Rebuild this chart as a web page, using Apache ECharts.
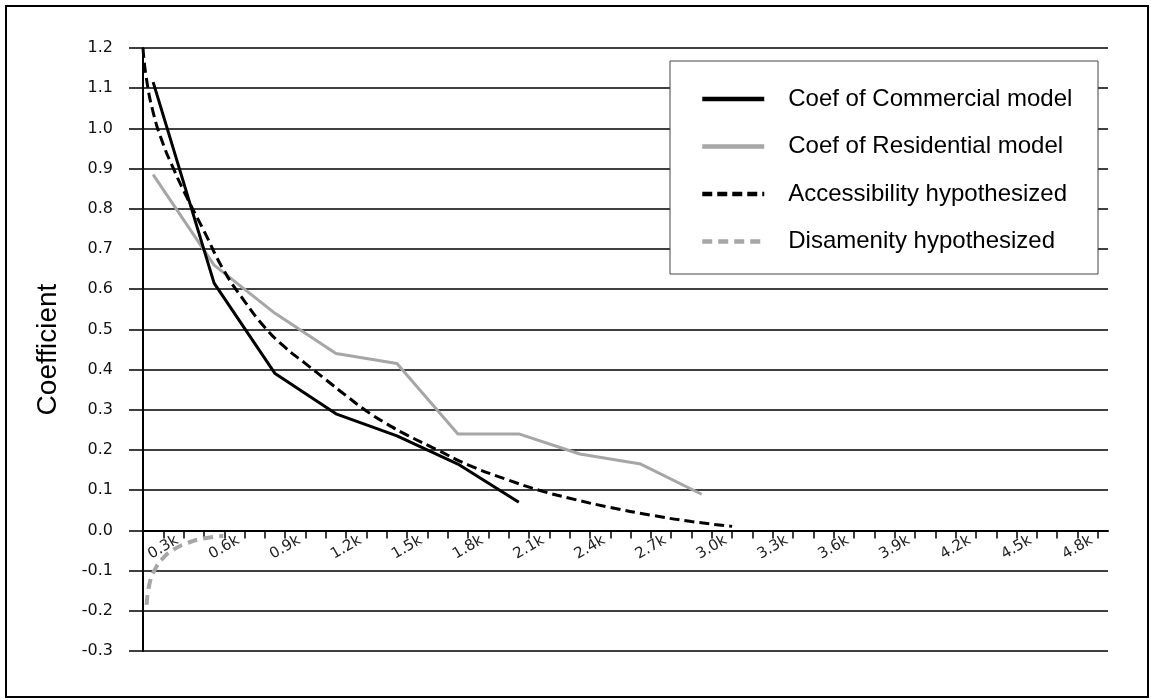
<!DOCTYPE html>
<html>
<head>
<meta charset="utf-8">
<script src="https://cdn.jsdelivr.net/npm/echarts@6/dist/echarts.min.js"></script>
<style>
html,body{margin:0;padding:0;background:#fff;}
#chart{width:1151px;height:700px;}
</style>
</head>
<body>
<div id="chart"></div>
<script>
// ---- data (x = distance in metres, y = coefficient) ----
const seriesNames = ['Coef of Commercial model','Coef of Residential model','Accessibility hypothesized','Disamenity hypothesized'];
const commercialX = [250, 550, 850, 1150, 1450, 1750, 2050];
const commercialY = [1.115, 0.615, 0.39, 0.29, 0.235, 0.165, 0.07];
const residentialX = [250, 550, 850, 1150, 1450, 1750, 2050, 2350, 2650, 2950];
const residentialY = [0.885, 0.66, 0.54, 0.44, 0.415, 0.24, 0.24, 0.19, 0.165, 0.09];
const accessX = [200, 215, 250, 300, 350, 400, 500, 600, 700, 800, 900, 1000, 1100, 1200, 1300, 1400, 1500, 1650, 1800, 2000, 2150, 2300, 2500, 2700, 2900, 3100];
const accessY = [1.2, 1.13, 1.04, 0.96, 0.90, 0.845, 0.745, 0.645, 0.57, 0.505, 0.455, 0.415, 0.375, 0.335, 0.297, 0.265, 0.237, 0.2, 0.163, 0.125, 0.1, 0.08, 0.057, 0.038, 0.022, 0.01];
const disamenityX = [218, 231, 259, 300, 349, 415, 497, 595];
const disamenityY = [-0.185, -0.135, -0.097, -0.068, -0.048, -0.032, -0.02, -0.014];
const xTickValues = [300, 600, 900, 1200, 1500, 1800, 2100, 2400, 2700, 3000, 3300, 3600, 3900, 4200, 4500, 4800];
const xTickLabels = ['0.3k','0.6k','0.9k','1.2k','1.5k','1.8k','2.1k','2.4k','2.7k','3.0k','3.3k','3.6k','3.9k','4.2k','4.5k','4.8k'];
const yAxisName = 'Coefficient';
const yMin = -0.3, yMax = 1.2;

function pairs(xs, ys) { return xs.map((x, i) => [x, ys[i]]); }
const minorTicks = [];
for (let v = 300; v <= 4900; v += 100) minorTicks.push(v);

const gridTop = 48, gridBottom = 49, H = 700;
const plotH = H - gridTop - gridBottom;
// move the x axis up so that it sits on the zero line
const zeroOffset = -(plotH * (0 - yMin) / (yMax - yMin));

const chart = echarts.init(document.getElementById('chart'), null, {renderer: 'canvas'});
const option = {
  animation: false,
  backgroundColor: '#fff',
  grid: {left: 143, right: 43, top: gridTop, bottom: gridBottom, containLabel: false},
  xAxis: {
    type: 'value', min: 200, max: 4950, offset: zeroOffset,
    axisLine: {onZero: false, lineStyle: {color: '#000', width: 2}},
    axisTick: {show: true, length: 8, customValues: minorTicks, lineStyle: {color: '#000', width: 1.5}},
    axisLabel: {
      customValues: xTickValues,
      formatter: v => { const i = xTickValues.indexOf(v); return i >= 0 ? xTickLabels[i] : ''; },
      rotate: 30, align: 'center', verticalAlign: 'middle', margin: 17,
      fontFamily: 'DejaVu Sans', fontSize: 15, color: '#222'
    },
    splitLine: {show: false}
  },
  yAxis: {
    type: 'value', min: yMin, max: yMax, interval: 0.1,
    name: yAxisName, nameLocation: 'middle', nameRotate: 90, nameGap: 81,
    nameTextStyle: {fontFamily: 'Liberation Sans', fontSize: 28, color: '#000'},
    axisLine: {show: true, onZero: false, lineStyle: {color: '#000', width: 2}},
    axisTick: {show: true, length: 14, lineStyle: {color: '#000', width: 1.5}},
    axisLabel: {formatter: v => v.toFixed(1), margin: 30, fontFamily: 'DejaVu Sans', fontSize: 16, color: '#111'},
    splitLine: {show: true, lineStyle: {color: '#000', width: 1.5}}
  },
  legend: {
    show: true, orient: 'vertical', left: 700, top: 85, padding: 0,
    itemWidth: 62, itemHeight: 14, itemGap: 19.5, z: 60,
    data: seriesNames,
    itemStyle: {opacity: 0},
    lineStyle: {width: 4.5},
    textStyle: {fontFamily: 'Liberation Sans', fontSize: 24, lineHeight: 28, color: '#000', padding: [0, 0, 0, 19]}
  },
  graphic: {
    elements: [
      {type: 'rect', z: 50, shape: {x: 670, y: 61, width: 428, height: 213}, style: {fill: '#fff', stroke: '#444', lineWidth: 1}},
      {type: 'rect', z: 0, silent: true, shape: {x: 6, y: 6, width: 1142, height: 691}, style: {fill: 'none', stroke: '#000', lineWidth: 2}}
    ]
  },
  series: [
    {name: seriesNames[0], type: 'line', data: pairs(commercialX, commercialY), symbol: 'none', smooth: false,
     lineStyle: {color: '#000', width: 3}, itemStyle: {color: '#000'}, z: 5},
    {name: seriesNames[1], type: 'line', data: pairs(residentialX, residentialY), symbol: 'none', smooth: false,
     lineStyle: {color: '#a6a6a6', width: 3}, itemStyle: {color: '#a6a6a6'}, z: 4},
    {name: seriesNames[2], type: 'line', data: pairs(accessX, accessY), symbol: 'none', smooth: true,
     lineStyle: {color: '#000', width: 3, type: [10, 5]}, itemStyle: {color: '#000'}, z: 6},
    {name: seriesNames[3], type: 'line', data: pairs(disamenityX, disamenityY), symbol: 'none', smooth: true,
     lineStyle: {color: '#a6a6a6', width: 4, type: [10, 6]}, itemStyle: {color: '#a6a6a6'}, z: 4}
  ]
};
chart.setOption(option);
</script>
</body>
</html>
